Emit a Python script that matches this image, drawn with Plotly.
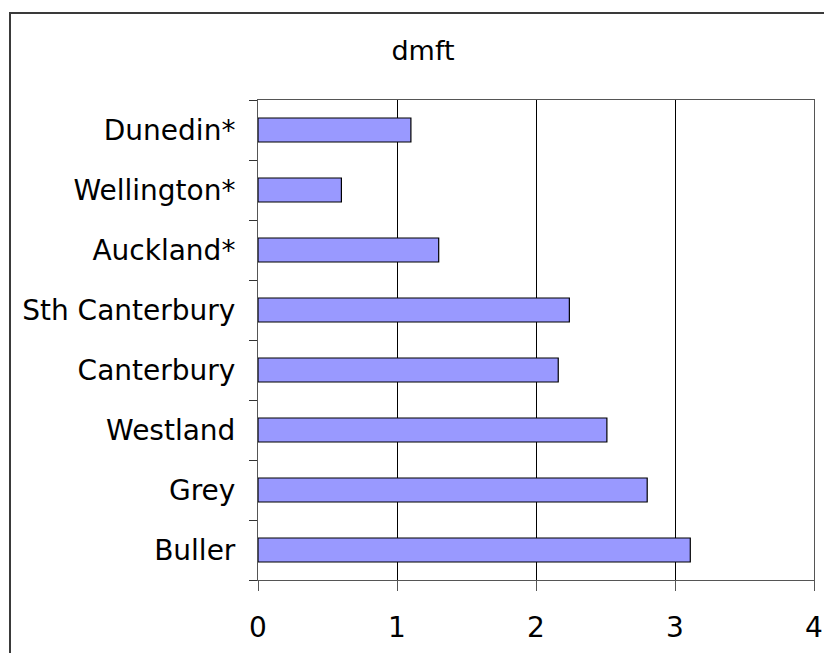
import plotly.graph_objects as go

# Regions listed bottom-to-top as they appear on the category axis
regions = ["Buller", "Grey", "Westland", "Canterbury", "Sth Canterbury",
           "Auckland*", "Wellington*", "Dunedin*"]
dmft = [3.11, 2.80, 2.51, 2.16, 2.24, 1.30, 0.60, 1.10]
x_ticks = [0, 1, 2, 3, 4]

W, H = 824, 653
L, R, T, B = 258, 10, 100, 73
pw, ph = W - L - R, H - T - B

def px_x(p):
    return (p - L) / pw

def px_y(p):
    return (H - B - p) / ph

FONT = "DejaVu Sans"

fig = go.Figure()
fig.add_trace(go.Bar(
    y=regions, x=dmft, orientation="h", width=0.4,
    marker=dict(color="#9999FF", line=dict(color="#000000", width=1.2)),
    hoverinfo="x+y",
))

# Outer chart border
fig.add_shape(type="rect", xref="paper", yref="paper",
              x0=px_x(10), x1=px_x(840), y0=px_y(670), y1=px_y(13),
              line=dict(color="#3a3a3a", width=2), fillcolor="rgba(0,0,0,0)",
              layer="below")

fig.update_layout(
    template="none",
    width=W, height=H,
    margin=dict(l=L, r=R, t=T, b=B, autoexpand=False),
    paper_bgcolor="white", plot_bgcolor="white",
    showlegend=False,
    font=dict(family=FONT, size=28, color="#000000"),
    title=dict(text="dmft", x=px_x(423), xref="paper", xanchor="center",
               y=1 - 51 / H, yanchor="middle",
               font=dict(family=FONT, size=27, color="#000000")),
    xaxis=dict(range=[0, 4], tickvals=x_ticks, showgrid=True, automargin=False,
               gridcolor="#000000", gridwidth=1, zeroline=False,
               showline=True, linecolor="#555555", linewidth=1, mirror=True,
               ticks="outside", ticklen=10, tickcolor="#555555",
               ticklabelstandoff=12,
               tickfont=dict(family=FONT, size=28, color="#000000")),
    yaxis=dict(type="category", categoryorder="array", categoryarray=regions,
               showgrid=False, zeroline=False, automargin=False,
               showline=True, linecolor="#555555", linewidth=1, mirror=True,
               ticks="outside", ticklen=8, tickcolor="#333333",
               tickson="boundaries", ticklabelstandoff=16,
               tickfont=dict(family=FONT, size=28, color="#000000")),
)

fig.write_html("out.html")
